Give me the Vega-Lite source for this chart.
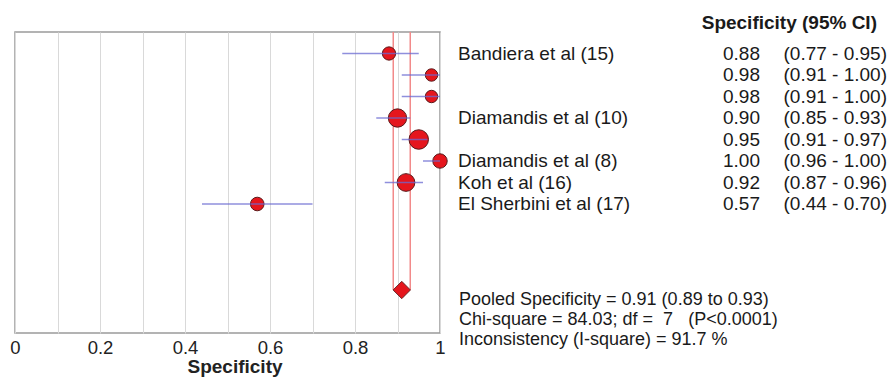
{
  "$schema": "https://vega.github.io/schema/vega-lite/v6.json",
  "autosize": {"type": "none"},
  "width": 425,
  "height": 301,
  "padding": {"left": 15, "top": 32, "right": 449, "bottom": 44},
  "background": "white",
  "config": {
    "font": "Liberation Sans",
    "view": {"stroke": "#9a9a9a", "strokeWidth": 1.5}
  },
  "datasets": {
    "studies": [
      {"row": 1, "name": "Bandiera et al (15)", "spec": 0.88, "lo": 0.77, "hi": 0.95, "weight": 8.8},
      {"row": 2, "name": "", "spec": 0.98, "lo": 0.91, "hi": 1.0, "weight": 7.7},
      {"row": 3, "name": "", "spec": 0.98, "lo": 0.91, "hi": 1.0, "weight": 7.7},
      {"row": 4, "name": "Diamandis et al (10)", "spec": 0.90, "lo": 0.85, "hi": 0.93, "weight": 16.8},
      {"row": 5, "name": "", "spec": 0.95, "lo": 0.91, "hi": 0.97, "weight": 19.0},
      {"row": 6, "name": "Diamandis et al (8)", "spec": 1.0, "lo": 0.96, "hi": 1.0, "weight": 10.4},
      {"row": 7, "name": "Koh et al (16)", "spec": 0.92, "lo": 0.87, "hi": 0.96, "weight": 15.7},
      {"row": 8, "name": "El Sherbini et al (17)", "spec": 0.57, "lo": 0.44, "hi": 0.70, "weight": 9.2}
    ],
    "pooled": [
      {"row": 12, "spec": 0.91, "lo": 0.89, "hi": 0.93}
    ]
  },
  "layer": [
    {
      "data": {"name": "pooled"},
      "mark": {"type": "rule", "color": "#f28a8a", "strokeWidth": 1.5},
      "encoding": {
        "x": {"field": "lo", "type": "quantitative",
          "scale": {"domain": [0, 1], "nice": false, "zero": false},
          "axis": {
            "values": [0, 0.1, 0.2, 0.3, 0.4, 0.5, 0.6, 0.7, 0.8, 0.9, 1],
            "format": "~g",
            "labelExpr": "(round(datum.value*10) % 2 == 0) ? datum.label : ''",
            "grid": true, "gridColor": "#d9d9d9", "gridWidth": 1,
            "domain": false, "ticks": false,
            "labelFontSize": 18.5, "labelColor": "#222", "labelPadding": 5,
            "labelFlush": false,
            "title": "Specificity", "titleFontSize": 19, "titleFontWeight": "bold",
            "titleColor": "#222", "titlePadding": 1, "titleX": 219.5
          }
        },
        "y": {"field": "row", "type": "quantitative",
          "scale": {"domain": [0, 14], "reverse": true, "nice": false, "zero": false},
          "axis": null},
        "y2": {"datum": 0}
      }
    },
    {
      "data": {"name": "pooled"},
      "mark": {"type": "rule", "color": "#f28a8a", "strokeWidth": 1.5},
      "encoding": {
        "x": {"field": "hi", "type": "quantitative"},
        "y": {"field": "row", "type": "quantitative"},
        "y2": {"datum": 0}
      }
    },
    {
      "data": {"name": "studies"},
      "mark": {"type": "point", "shape": "circle", "filled": true, "fill": "#e5161d", "stroke": "#5a1a1a", "strokeWidth": 1, "opacity": 1},
      "encoding": {
        "x": {"field": "spec", "type": "quantitative"},
        "y": {"field": "row", "type": "quantitative"},
        "size": {"field": "weight", "type": "quantitative",
          "scale": {"domain": [0, 100], "range": [0, 2000], "zero": true}, "legend": null}
      }
    },
    {
      "data": {"name": "studies"},
      "mark": {"type": "rule", "color": "#6a6ad2", "strokeWidth": 1.5, "opacity": 0.75},
      "encoding": {
        "x": {"field": "lo", "type": "quantitative"},
        "x2": {"field": "hi"},
        "y": {"field": "row", "type": "quantitative"}
      }
    },
    {
      "data": {"name": "pooled"},
      "mark": {"type": "point", "shape": "diamond", "filled": true, "fill": "#e5161d", "stroke": "#6a2a2a", "strokeWidth": 1, "size": 300, "opacity": 1},
      "encoding": {
        "x": {"field": "spec", "type": "quantitative"},
        "y": {"field": "row", "type": "quantitative"}
      }
    },
    {
      "data": {"name": "studies"},
      "mark": {"type": "text", "align": "left", "baseline": "middle", "fontSize": 19, "color": "#1a1a1a"},
      "encoding": {
        "x": {"datum": 1.0424},
        "y": {"field": "row", "type": "quantitative"},
        "text": {"field": "name", "type": "nominal"}
      }
    },
    {
      "data": {"name": "studies"},
      "mark": {"type": "text", "align": "right", "baseline": "middle", "fontSize": 19, "color": "#1a1a1a"},
      "encoding": {
        "x": {"datum": 1.7529},
        "y": {"field": "row", "type": "quantitative"},
        "text": {"field": "spec", "type": "quantitative", "format": ".2f"}
      }
    },
    {
      "data": {"name": "studies"},
      "transform": [
        {"calculate": "'(' + format(datum.lo, '.2f') + ' - ' + format(datum.hi, '.2f') + ')'", "as": "ci"}
      ],
      "mark": {"type": "text", "align": "right", "baseline": "middle", "fontSize": 19, "color": "#1a1a1a"},
      "encoding": {
        "x": {"datum": 2.0518},
        "y": {"field": "row", "type": "quantitative"},
        "text": {"field": "ci", "type": "nominal"}
      }
    },
    {
      "data": {"values": [{"label": "Specificity (95% CI)"}]},
      "mark": {"type": "text", "align": "right", "baseline": "middle", "fontSize": 19, "fontWeight": "bold", "color": "#1a1a1a"},
      "encoding": {
        "x": {"datum": 2.0282},
        "y": {"datum": -0.4},
        "text": {"field": "label", "type": "nominal"}
      }
    },
    {
      "data": {"values": [{"k": 1}]},
      "mark": {"type": "text", "align": "left", "baseline": "alphabetic", "fontSize": 18, "lineHeight": 20, "color": "#1a1a1a",
        "text": ["Pooled Specificity = 0.91 (0.89 to 0.93)", "Chi-square = 84.03; df =\u00a0 7 \u00a0 (P<0.0001)", "Inconsistency (I-square) = 91.7 %"]},
      "encoding": {
        "x": {"datum": 1.0447},
        "y": {"datum": 12.7},
        "text": {"value": ["Pooled Specificity = 0.91 (0.89 to 0.93)", "Chi-square = 84.03; df =\u00a0 7 \u00a0 (P<0.0001)", "Inconsistency (I-square) = 91.7 %"]}
      }
    }
  ]
}
